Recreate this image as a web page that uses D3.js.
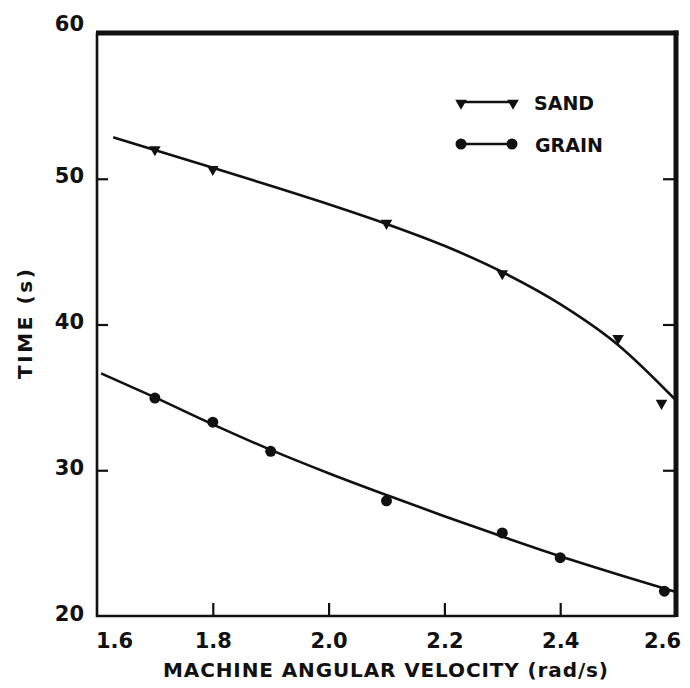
<!DOCTYPE html>
<html>
<head>
<meta charset="utf-8">
<script src="https://cdn.jsdelivr.net/npm/d3@7"></script>
<style>
  html, body { margin: 0; padding: 0; background: #fff; }
  svg { display: block; }
  text { font-family: "DejaVu Sans", "Liberation Sans", sans-serif; font-weight: bold; fill: #111; }
</style>
</head>
<body>
<svg id="chart" width="690" height="688"></svg>
<script>
// ---- data ----
const xTicks = [1.6, 1.8, 2.0, 2.2, 2.4, 2.6];
const yTicks = [20, 30, 40, 50, 60];

const sandX = [1.7, 1.8, 2.1, 2.3, 2.5, 2.575];
const sandY = [52.0, 50.65, 46.95, 43.5, 39.05, 34.6];

const grainX = [1.7, 1.8, 1.9, 2.1, 2.3, 2.4, 2.58];
const grainY = [34.95, 33.3, 31.3, 27.9, 25.7, 24.0, 21.7];

// fitted curves
const sandFitX = [1.628, 1.8, 1.9, 2.0, 2.1, 2.2, 2.3, 2.4, 2.5, 2.6];
const sandFitY = [52.85, 50.75, 49.52, 48.25, 46.9, 45.4, 43.6, 41.4, 38.6, 34.8];

const grainFitX = [1.607, 1.7, 1.8, 1.9, 2.0, 2.1, 2.2, 2.3, 2.4, 2.5, 2.6];
const grainFitY = [36.65, 35.0, 33.15, 31.4, 29.8, 28.3, 26.85, 25.45, 24.1, 22.85, 21.65];

const legendLabels = ["SAND", "GRAIN"];

// ---- layout ----
const svg = d3.select("#chart");
const x = d3.scaleLinear().domain([1.6, 2.6]).range([97, 676]);
const y = d3.scaleLinear().domain([20, 60]).range([616, 33]);
const ink = "#111";

// bottom axis ticks (inward)
const gx = svg.append("g").attr("transform", `translate(0,${y(20)})`)
  .call(d3.axisBottom(x).tickValues(xTicks).tickSizeInner(-13).tickSizeOuter(0)
        .tickFormat(d => d3.format(".1f")(d)));
gx.select(".domain").remove();
gx.selectAll(".tick line").attr("stroke", ink).attr("stroke-width", 2.2)
  .attr("display", d => (d === 1.6 || d === 2.6) ? "none" : null);
gx.selectAll(".tick text").attr("font-size", 21).attr("fill", ink)
  .attr("y", 0).attr("dy", 0)
  .attr("transform", "translate(0,32)")
  .attr("x", d => d === 1.6 ? 17 : (d === 2.6 ? -14 : 0));

// left axis ticks (inward)
const gy = svg.append("g").attr("transform", `translate(${x(1.6)},0)`)
  .call(d3.axisLeft(y).tickValues(yTicks).tickSizeInner(-11).tickSizeOuter(0));
gy.select(".domain").remove();
gy.selectAll(".tick line").attr("stroke", ink).attr("stroke-width", 2.2)
  .attr("display", d => (d === 20 || d === 60) ? "none" : null);
gy.selectAll(".tick text").attr("font-size", 21).attr("fill", ink)
  .attr("x", -13).attr("dy", 0)
  .attr("y", d => d === 60 ? -3 : 4);

// right axis ticks (inward)
const gr = svg.append("g").attr("transform", `translate(${x(2.6)},0)`)
  .call(d3.axisRight(y).tickValues(yTicks.filter(d => d > 20 && d < 60)).tickSizeInner(-13).tickSizeOuter(0).tickFormat(""));
gr.select(".domain").remove();
gr.selectAll(".tick line").attr("stroke", ink).attr("stroke-width", 2.2);

// frame
svg.append("line").attr("x1", x(1.6)).attr("x2", x(1.6)).attr("y1", y(60)).attr("y2", y(20) + 1)
  .attr("stroke", ink).attr("stroke-width", 2.6);
svg.append("line").attr("x1", x(1.6) - 1).attr("x2", x(2.6)).attr("y1", y(20)).attr("y2", y(20))
  .attr("stroke", ink).attr("stroke-width", 2.6);
svg.append("line").attr("x1", x(1.6) - 1).attr("x2", x(2.6) + 2.5).attr("y1", y(60)).attr("y2", y(60))
  .attr("stroke", ink).attr("stroke-width", 5);
svg.append("line").attr("x1", x(2.6)).attr("x2", x(2.6)).attr("y1", y(60) - 2.5).attr("y2", y(20) + 1)
  .attr("stroke", ink).attr("stroke-width", 5);

// curves
const line = d3.line().x(d => x(d[0])).y(d => y(d[1])).curve(d3.curveMonotoneX);
svg.append("path").datum(sandFitX.map((v, i) => [v, sandFitY[i]]))
  .attr("d", line).attr("fill", "none").attr("stroke", ink).attr("stroke-width", 2.6);
svg.append("path").datum(grainFitX.map((v, i) => [v, grainFitY[i]]))
  .attr("d", line).attr("fill", "none").attr("stroke", ink).attr("stroke-width", 2.6);

// markers
const tri = d3.symbol().type(d3.symbolTriangle).size(58);
svg.append("g").selectAll("path").data(sandX.map((v, i) => [v, sandY[i]])).join("path")
  .attr("d", tri).attr("fill", ink)
  .attr("transform", d => `translate(${x(d[0])},${y(d[1])}) rotate(180)`);
svg.append("g").selectAll("circle").data(grainX.map((v, i) => [v, grainY[i]])).join("circle")
  .attr("cx", d => x(d[0])).attr("cy", d => y(d[1])).attr("r", 5.5).attr("fill", ink);

// legend
const lg = svg.append("g");
lg.append("line").attr("x1", 461).attr("x2", 513).attr("y1", 102).attr("y2", 102)
  .attr("stroke", ink).attr("stroke-width", 2.4);
[461, 513].forEach(cx => lg.append("path").attr("d", tri).attr("fill", ink)
  .attr("transform", `translate(${cx},103) rotate(180)`));
lg.append("text").attr("x", 534).attr("y", 110).attr("font-size", 19).text(legendLabels[0]);
lg.append("line").attr("x1", 461).attr("x2", 512).attr("y1", 144).attr("y2", 144)
  .attr("stroke", ink).attr("stroke-width", 2.4);
[461, 512].forEach(cx => lg.append("circle").attr("cx", cx).attr("cy", 144).attr("r", 5.5).attr("fill", ink));
lg.append("text").attr("x", 535).attr("y", 152).attr("font-size", 19).text(legendLabels[1]);

// axis titles
svg.append("text").attr("x", 163).attr("y", 677).attr("font-size", 20)
  .attr("textLength", 445).attr("lengthAdjust", "spacing")
  .text("MACHINE  ANGULAR  VELOCITY  (rad/s)");
svg.append("text").attr("transform", "translate(32,379) rotate(-90)")
  .attr("font-size", 20).attr("textLength", 110).attr("lengthAdjust", "spacing")
  .text("TIME  (s)");
</script>
</body>
</html>
